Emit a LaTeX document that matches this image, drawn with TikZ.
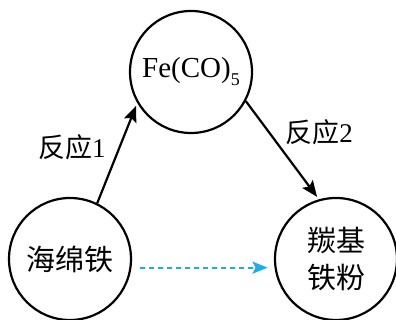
\documentclass[tikz,border=0pt]{standalone}
\usepackage{fontspec}
\setmainfont{Liberation Serif}
\newfontfamily\cjk{Noto Sans CJK SC}
\usepackage{tikz}
\usetikzlibrary{arrows.meta,positioning}
\definecolor{sidecyan}{HTML}{1AAEE8}

\begin{document}
\begin{tikzpicture}[->,>={Stealth[length=16pt,width=13pt,inset=3pt]},x=1pt,y=1pt,auto,on grid,
    line width=2.2pt,chem node/.style={circle,draw,minimum size=122pt,inner sep=0pt,align=center,font=\fontsize{29}{37}\selectfont},
    rxn label/.style={inner sep=0pt,font=\fontsize{27}{30}\selectfont},
    side path/.style={draw=sidecyan,dash pattern=on 5pt off 4pt,line width=2pt}]
  \useasboundingbox (0,0) rectangle (396,320);

  \node[chem node]  (fe) at (191,248) {Fe(CO)\raisebox{-8pt}{\fontsize{18}{18}\selectfont 5}};
  \node[chem node]  (sponge) [below left=187pt and 121pt of fe] {\cjk 海绵铁};
  \node[chem node]  (carbonyl) [below right=187pt and 145pt of fe] {\cjk 羰基\\\cjk 铁粉};
  \path (sponge.64) edge [shorten >=3pt] node [rxn label,pos=0.56,left=13pt] {{\cjk 反应}1} (fe.210)
        (fe.-28) edge [shorten >=3pt] node [rxn label,pos=0.32,right=15pt] {{\cjk 反应}2} (carbonyl.106)
        (sponge.-8) edge [side path,shorten <=9pt,shorten >=7pt,-{Stealth[length=15pt,width=12pt,inset=3pt,sidecyan]}] (carbonyl.188)
         ;
\end{tikzpicture}
\end{document}
